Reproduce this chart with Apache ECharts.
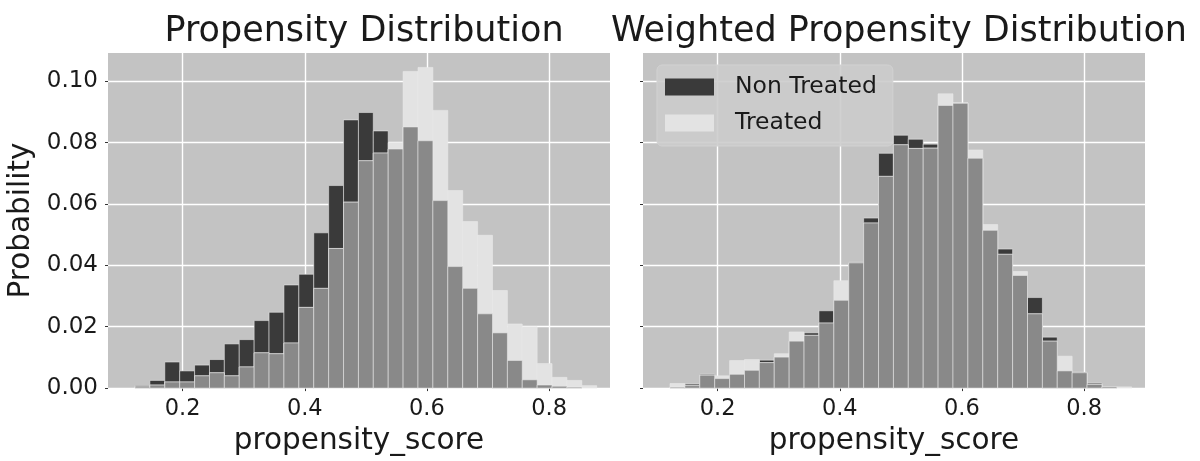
<!DOCTYPE html>
<html><head><meta charset="utf-8">
<script src="https://cdn.jsdelivr.net/npm/echarts@6/dist/echarts.min.js"></script>
<style>html,body{margin:0;padding:0;background:#fff}#c{width:1200px;height:461px}</style>
</head><body><div id="c"></div>
<script>
// ---- data ----
const binEdges = [0.1220, 0.1464, 0.1708, 0.1952, 0.2196, 0.2440, 0.2683, 0.2927, 0.3171, 0.3415,
  0.3659, 0.3903, 0.4147, 0.4391, 0.4635, 0.4879, 0.5122, 0.5366, 0.5610, 0.5854,
  0.6098, 0.6342, 0.6586, 0.6830, 0.7074, 0.7318, 0.7561, 0.7805, 0.8049, 0.8293, 0.8537, 0.8781];
const rawNonTreated = [0.0008, 0.0025, 0.0085, 0.0056, 0.0075, 0.0093, 0.0144, 0.0158, 0.0220, 0.0247,
  0.0336, 0.0371, 0.0506, 0.0660, 0.0874, 0.0898, 0.0838, 0.0779, 0.0851, 0.0806,
  0.0611, 0.0396, 0.0325, 0.0242, 0.0180, 0.0090, 0.0027, 0.0010, 0.0006, 0.0003, 0.0000];
const rawTreated = [0.0004, 0.0010, 0.0020, 0.0020, 0.0040, 0.0050, 0.0040, 0.0069, 0.0115, 0.0112,
  0.0147, 0.0263, 0.0325, 0.0455, 0.0606, 0.0741, 0.0766, 0.0800, 0.1032, 0.1045,
  0.0905, 0.0644, 0.0543, 0.0498, 0.0318, 0.0209, 0.0200, 0.0080, 0.0035, 0.0025, 0.0008];
const weightedNonTreated = [0.0003, 0.0013, 0.0045, 0.0031, 0.0045, 0.0058, 0.0091, 0.0101, 0.0153, 0.0180,
  0.0252, 0.0286, 0.0410, 0.0554, 0.0765, 0.0824, 0.0811, 0.0795, 0.0921, 0.0928,
  0.0749, 0.0514, 0.0453, 0.0367, 0.0295, 0.0166, 0.0056, 0.0052, 0.0016, 0.0005, 0.0000];
const weightedTreated = [0.0015, 0.0008, 0.0042, 0.0040, 0.0090, 0.0093, 0.0083, 0.0112, 0.0183, 0.0172,
  0.0212, 0.0350, 0.0408, 0.0538, 0.0690, 0.0793, 0.0781, 0.0782, 0.0959, 0.0930,
  0.0776, 0.0533, 0.0436, 0.0380, 0.0242, 0.0153, 0.0104, 0.0050, 0.0012, 0.0004, 0.0004];
const xTickValues = [0.2, 0.4, 0.6, 0.8];
const yTickValues = [0.00, 0.02, 0.04, 0.06, 0.08, 0.10];
const seriesNames = ['Non Treated', 'Treated'];
const panelTitles = ['Propensity Distribution', 'Weighted Propensity Distribution'];
const xLabel = 'propensity_score';
const yLabel = 'Probability';

// ---- styling ----
const FONT = 'DejaVu Sans';
const BG = '#c3c3c3';
const DARK = '#3a3a3a';
const LIGHT = '#e3e3e3';
const MID = '#898989';
const TXT = '#1a1a1a';

function toData(vals) { return vals.map((v, i) => [binEdges[i], binEdges[i + 1], v]); }
function overlap(a, b) { return a.map((v, i) => Math.min(v, b[i])); }

function renderBar(params, api) {
  const x0 = api.value(0), x1 = api.value(1), h = api.value(2);
  if (!(h > 0)) return null;
  const p0 = api.coord([x0, 0]);
  const p1 = api.coord([x1, h]);
  return {
    type: 'rect',
    shape: { x: p0[0], y: p1[1], width: p1[0] - p0[0], height: p0[1] - p1[1] },
    style: api.style({ stroke: 'rgba(235,235,235,0.55)', lineWidth: 1 })
  };
}

function barSeries(name, vals, color, idx, z) {
  return {
    type: 'custom', name: name, xAxisIndex: idx, yAxisIndex: idx,
    renderItem: renderBar, data: toData(vals), z: z,
    encode: { x: [0, 1], y: 2 }, itemStyle: { color: color },
    silent: true, animation: false
  };
}

const grids = [
  { left: 108, top: 53, width: 502, height: 338 },
  { left: 643, top: 53, width: 502, height: 338 }
];

function xAxis(idx) {
  return {
    type: 'value', gridIndex: idx, min: 0.0778, max: 0.8998, splitNumber: 4,
    name: xLabel, nameLocation: 'middle', nameGap: 37,
    nameTextStyle: { fontFamily: FONT, fontSize: 29.5, color: TXT },
    axisLine: { show: false },
    axisTick: { show: true, length: 3, customValues: xTickValues, lineStyle: { color: '#333' } },
    axisLabel: { fontFamily: FONT, fontSize: 22.5, color: TXT, margin: 10, customValues: xTickValues,
      formatter: v => v.toFixed(1) },
    splitLine: { show: true, lineStyle: { color: '#ffffff', width: 1.4 } }
  };
}
function yAxis(idx) {
  return {
    type: 'value', gridIndex: idx, min: 0, max: 0.1092, interval: 0.02,
    name: idx === 0 ? yLabel : '', nameLocation: 'middle', nameGap: 72,
    nameTextStyle: { fontFamily: FONT, fontSize: 29.5, color: TXT },
    axisLine: { show: false },
    axisTick: { show: true, length: 3, customValues: yTickValues, lineStyle: { color: '#333' } },
    axisLabel: { show: idx === 0, fontFamily: FONT, fontSize: 23, color: TXT, margin: 10,
      customValues: yTickValues, formatter: v => v.toFixed(2) },
    splitLine: { show: true, lineStyle: { color: '#ffffff', width: 1.4 } }
  };
}

const option = {
  animation: false,
  backgroundColor: '#ffffff',
  title: [
    { text: panelTitles[0], left: 359, top: 9, textAlign: 'center',
      textStyle: { fontFamily: FONT, fontSize: 35, fontWeight: 'normal', color: TXT } },
    { text: panelTitles[1], left: 894, top: 9, textAlign: 'center',
      textStyle: { fontFamily: FONT, fontSize: 35, fontWeight: 'normal', color: TXT } }
  ],
  legend: {
    data: seriesNames, orient: 'vertical', left: 657, top: 65, icon: 'rect',
    itemWidth: 49, itemHeight: 17, itemGap: 12, selectedMode: false,
    padding: [10, 16, 11, 8],
    backgroundColor: 'rgba(204,204,204,0.9)', borderColor: '#d2d2d2', borderWidth: 1, borderRadius: 5,
    textStyle: { fontFamily: FONT, fontSize: 23.5, color: TXT, padding: [0, 0, 0, 16] }
  },
  grid: grids.map(g => Object.assign({ show: true, backgroundColor: BG, borderWidth: 0, containLabel: false }, g)),
  xAxis: [xAxis(0), xAxis(1)],
  yAxis: [yAxis(0), yAxis(1)],
  series: [
    barSeries(seriesNames[0], rawNonTreated, DARK, 0, 2),
    barSeries(seriesNames[1], rawTreated, LIGHT, 0, 3),
    barSeries('overlap-raw', overlap(rawNonTreated, rawTreated), MID, 0, 4),
    barSeries(seriesNames[0], weightedNonTreated, DARK, 1, 2),
    barSeries(seriesNames[1], weightedTreated, LIGHT, 1, 3),
    barSeries('overlap-weighted', overlap(weightedNonTreated, weightedTreated), MID, 1, 4)
  ]
};
const chart = echarts.init(document.getElementById('c'), null, { renderer: 'canvas' });
chart.setOption(option);
</script></body></html>
